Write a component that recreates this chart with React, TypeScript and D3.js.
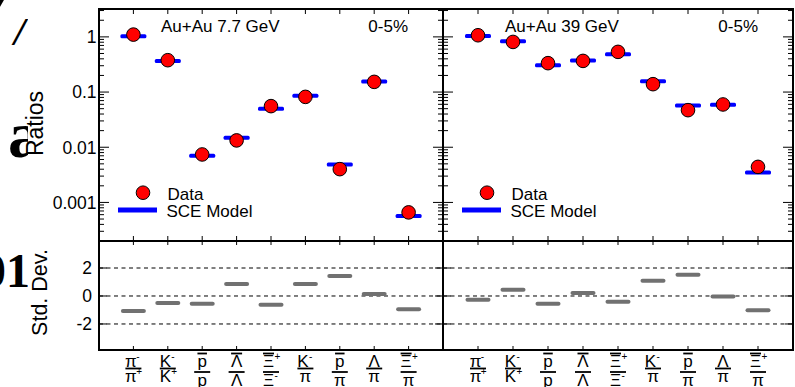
import * as d3 from 'd3';

const W = 795;
const H = 387;

// particle ratio categories (numerator / denominator)
const xLabels = [
  { num: 'π', numSup: '-', numBar: false, den: 'π', denSup: '+' },
  { num: 'K', numSup: '-', numBar: false, den: 'K', denSup: '+' },
  { num: 'p', numSup: '', numBar: true, den: 'p', denSup: '' },
  { num: 'Λ', numSup: '', numBar: true, den: 'Λ', denSup: '' },
  { num: 'Ξ', numSup: '+', numBar: true, den: 'Ξ', denSup: '-' },
  { num: 'K', numSup: '-', numBar: false, den: 'π', denSup: '' },
  { num: 'p', numSup: '', numBar: true, den: 'π', denSup: '' },
  { num: 'Λ', numSup: '', numBar: false, den: 'π', denSup: '' },
  { num: 'Ξ', numSup: '+', numBar: true, den: 'π', denSup: '' },
];

// Au+Au 7.7 GeV
const data77 = [1.1, 0.378, 0.0074, 0.0133, 0.0556, 0.0818, 0.00401, 0.153, 0.00066];
const model77 = [1.03, 0.367, 0.007, 0.0148, 0.0497, 0.0853, 0.00488, 0.155, 0.000565];
const dev77 = [-1.07, -0.5, -0.55, 0.86, -0.62, 0.86, 1.42, 0.15, -0.95];

// Au+Au 39 GeV
const data39 = [1.07, 0.81, 0.334, 0.367, 0.535, 0.139, 0.047, 0.0596, 0.00441];
const model39 = [1.04, 0.835, 0.307, 0.373, 0.486, 0.157, 0.057, 0.0587, 0.00349];
const dev39 = [-0.27, 0.44, -0.55, 0.22, -0.41, 1.09, 1.51, -0.04, -1.02];

const ratioTicks = [0.001, 0.01, 0.1, 1];
const ratioTickLabels = ['0.001', '0.01', '0.1', '1'];
const devTicks = [-2, 0, 2];

const FONT = 'Liberation Sans, Arial, Helvetica, sans-serif';
const SERIF = 'Liberation Serif, DejaVu Serif, serif';

const TOP = 9;
const MID = 241;
const BOT = 350;

const yTop = d3.scaleLog().domain([2e-4, 3.2]).range([MID, TOP]);
const yBot = d3.scaleLinear().domain([-3.86, 3.93]).range([BOT, MID]);

// minor ticks for the log axis (2..9 x 10^k)
const minorTicks: number[] = [];
for (let k = -4; k <= 0; k++) {
  for (let m = 2; m <= 9; m++) {
    const v = m * Math.pow(10, k);
    if (v >= 2e-4 && v <= 3.2) minorTicks.push(v);
  }
}

const panels = [
  {
    x: d3.scaleLinear().domain([0, 10]).range([99, 443]),
    title: 'Au+Au 7.7 GeV',
    data: data77,
    model: model77,
    dev: dev77,
  },
  {
    x: d3.scaleLinear().domain([0, 10]).range([443, 793]),
    title: 'Au+Au 39 GeV',
    data: data39,
    model: model39,
    dev: dev39,
  },
];

const cats = xLabels.map((_, i) => i + 1);

function FracLabel({ cx, lab }: { cx: number; lab: (typeof xLabels)[number] }) {
  const nb = 366.5;
  const barY = lab.numBar ? 372 : 368.5;
  const db = barY + 13.5;
  const charW = lab.num === 'p' || lab.num === 'π' ? 9.5 : 11;
  const denW = lab.den === 'p' || lab.den === 'π' ? 9.5 : 11;
  const nShift = lab.numSup ? -2.5 : 0;
  const dShift = lab.denSup ? -2.5 : 0;
  return (
    <g fontFamily={FONT} fill="#000">
      <text x={cx + nShift} y={nb} fontSize={17} textAnchor="middle">
        {lab.num}
      </text>
      {lab.numSup && (
        <text x={cx + nShift + charW / 2 + 0.5} y={nb - 7} fontSize={10}>
          {lab.numSup}
        </text>
      )}
      {lab.numBar && (
        <line x1={cx + nShift - charW / 2} x2={cx + nShift + charW / 2} y1={353.5} y2={353.5} stroke="#000" strokeWidth={1.8} />
      )}
      <line x1={cx - 8} x2={cx + 8} y1={barY} y2={barY} stroke="#000" strokeWidth={1.8} />
      <text x={cx + dShift} y={db} fontSize={17} textAnchor="middle">
        {lab.den}
      </text>
      {lab.denSup && (
        <text x={cx + dShift + denW / 2 + 0.5} y={db - 7} fontSize={10}>
          {lab.denSup}
        </text>
      )}
    </g>
  );
}

export default function App() {
  return (
    <div style={{ position: 'absolute', left: 0, top: 0 }}>
      <svg width={W} height={H} style={{ display: 'block', background: '#fff' }}>
        {/* fragments of neighbouring page text */}
        <g fill="#000" fontFamily={SERIF} fontWeight="bold">
          <text x={-16} y={20} fontSize={50} fontStyle="italic">7</text>
          <text x={14} y={45} fontSize={40} fontStyle="italic">/</text>
          <text x={8} y={157} fontSize={66}>a</text>
          <text x={30} y={287} fontSize={48} textAnchor="end">01</text>
        </g>
        <rect x={28} y={0} width={W - 28} height={H} fill="#fff" />

        {/* axis titles */}
        <text transform="translate(42.5,123.5) rotate(-90)" textAnchor="middle" fontFamily={FONT} fontSize={23}>
          Ratios
        </text>
        <text transform="translate(46.7,292.5) rotate(-90)" textAnchor="middle" fontFamily={FONT} fontSize={21.5}>
          Std. Dev.
        </text>

        {/* y tick labels */}
        {ratioTicks.map((t, i) => (
          <text key={t} x={96.5} y={yTop(t)} dy="0.36em" textAnchor="end" fontFamily={FONT} fontSize={17.5}>
            {ratioTickLabels[i]}
          </text>
        ))}
        {devTicks.map((t) => (
          <text key={t} x={92} y={yBot(t)} dy="0.36em" textAnchor="end" fontFamily={FONT} fontSize={17.5}>
            {t}
          </text>
        ))}

        {panels.map((p, pi) => {
          const [x0, x1] = p.x.range();
          return (
            <g key={pi}>
              {/* dashed reference lines */}
              {devTicks.map((t) => (
                <line key={t} x1={x0} x2={x1} y1={yBot(t)} y2={yBot(t)} stroke="#000" strokeWidth={1} strokeDasharray="4,3.5" />
              ))}

              {/* y ticks, both sides */}
              {[x0, x1].map((ax, si) => {
                const dir = si === 0 ? 1 : -1;
                return (
                  <g key={si} stroke="#000" strokeWidth={1}>
                    {ratioTicks.map((t) => (
                      <line key={t} x1={ax} x2={ax + dir * 10} y1={yTop(t)} y2={yTop(t)} />
                    ))}
                    {minorTicks.map((t) => (
                      <line key={t} x1={ax} x2={ax + dir * 5} y1={yTop(t)} y2={yTop(t)} />
                    ))}
                    {devTicks.map((t) => (
                      <line key={t} x1={ax} x2={ax + dir * 8} y1={yBot(t)} y2={yBot(t)} />
                    ))}
                  </g>
                );
              })}

              {/* x ticks */}
              <g stroke="#000" strokeWidth={1}>
                {cats.map((c) => (
                  <g key={c}>
                    <line x1={p.x(c)} x2={p.x(c)} y1={TOP} y2={TOP + 5} />
                    <line x1={p.x(c)} x2={p.x(c)} y1={MID} y2={MID - 5} />
                    <line x1={p.x(c)} x2={p.x(c)} y1={MID} y2={MID + 4} />
                    <line x1={p.x(c)} x2={p.x(c)} y1={BOT} y2={BOT - 4} />
                  </g>
                ))}
              </g>

              {/* model */}
              {p.model.map((v, i) => (
                <rect key={i} x={p.x(cats[i]) - 13} y={yTop(v) - 2} width={26} height={4} rx={1.5} fill="#0000ff" />
              ))}
              {/* data */}
              {p.data.map((v, i) => (
                <circle key={i} cx={p.x(cats[i])} cy={yTop(v)} r={6.8} fill="#ff0000" stroke="#000" strokeWidth={1} />
              ))}
              {/* std dev */}
              {p.dev.map((v, i) => (
                <rect key={i} x={p.x(cats[i]) - 12.5} y={yBot(v) - 2} width={25} height={4} rx={2} fill="#717171" />
              ))}

              {/* labels */}
              <text x={x0 + 62} y={32} fontFamily={FONT} fontSize={17}>{p.title}</text>
              <text x={x1 - 35} y={32} textAnchor="end" fontFamily={FONT} fontSize={17}>0-5%</text>

              {/* legend */}
              <circle cx={x0 + 44} cy={192.7} r={6.8} fill="#ff0000" stroke="#000" strokeWidth={1} />
              <text x={x0 + 68.5} y={200} fontFamily={FONT} fontSize={17}>Data</text>
              <rect x={x0 + 19} y={207.5} width={39} height={5} fill="#0000ff" />
              <text x={x0 + 67.5} y={216.7} fontFamily={FONT} fontSize={17}>SCE Model</text>

              {/* x category labels */}
              {xLabels.map((lab, i) => (
                <FracLabel key={i} cx={p.x(cats[i])} lab={lab} />
              ))}

              {/* frames */}
              <rect x={x0} y={TOP} width={x1 - x0} height={MID - TOP} fill="none" stroke="#000" strokeWidth={2} />
              <rect x={x0} y={MID} width={x1 - x0} height={BOT - MID} fill="none" stroke="#000" strokeWidth={2} />
            </g>
          );
        })}
      </svg>
    </div>
  );
}
